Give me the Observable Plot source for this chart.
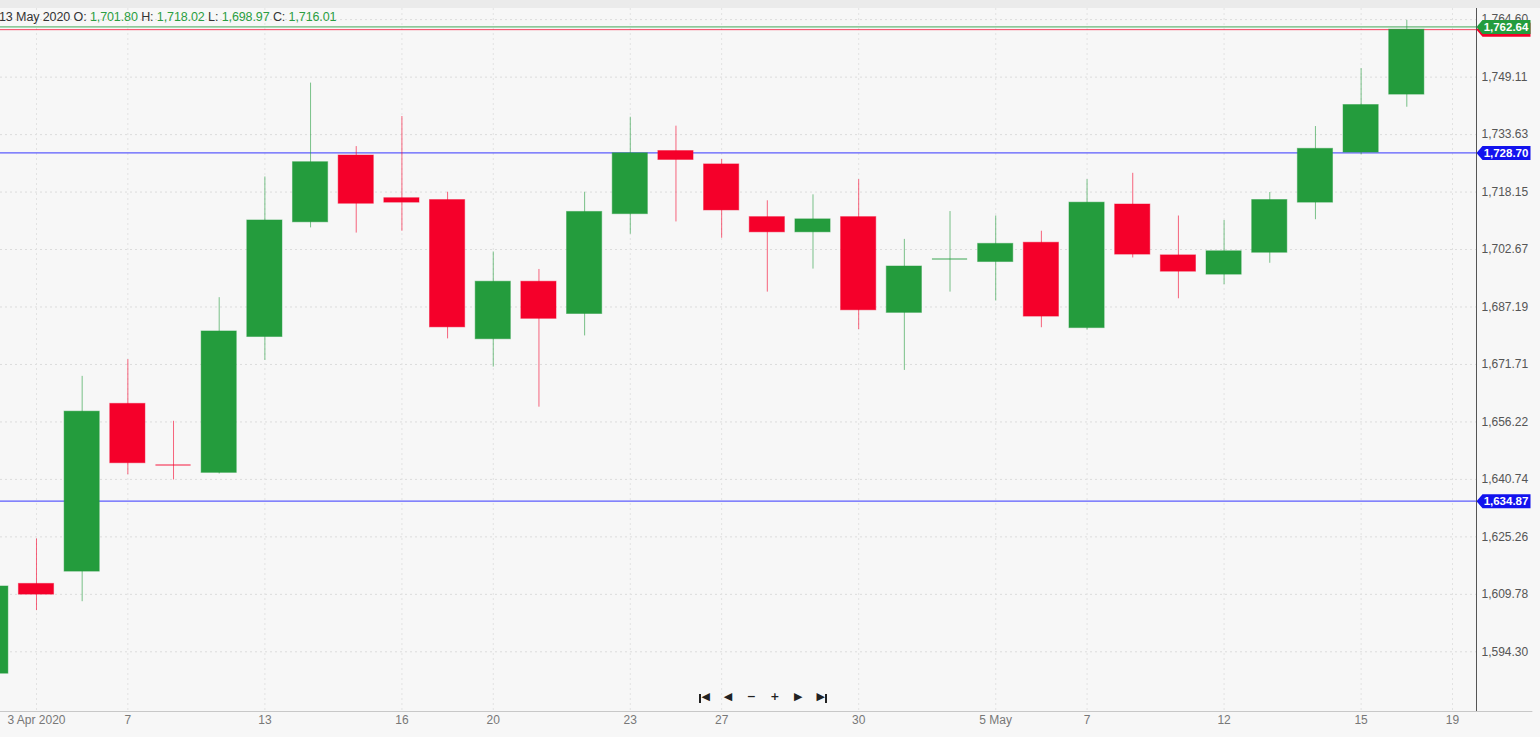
<!DOCTYPE html>
<html>
<head>
<meta charset="utf-8">
<script src="https://cdn.jsdelivr.net/npm/d3@7"></script>
<script src="https://cdn.jsdelivr.net/npm/@observablehq/plot@0.6"></script>
<style>
  html, body { margin: 0; padding: 0; background: #f7f7f7; }
  #wrap { position: relative; width: 1540px; height: 737px; overflow: hidden; background: #f7f7f7;
          font-family: "Liberation Sans", Arial, sans-serif; }
  #band { position: absolute; left: 0; top: 0; width: 1540px; height: 8px; background: #ebebeb; }
  #chart { position: absolute; left: 0; top: 0; }
  #hdr { position: absolute; left: -1px; top: 10px; font-size: 12.5px; color: #333; white-space: nowrap; letter-spacing: -0.1px; }
  #hdr .v { color: #2b9e42; }
  #nav { position: absolute; top: 690px; left: 693px; font-size: 11px; color: #222; white-space: nowrap; }
  #nav span { position: relative; display: inline-block; width: 23.4px; text-align: center; font-family: "DejaVu Sans", sans-serif; font-weight: bold; }
  #nav span.first::before { content: ""; position: absolute; left: 6px; top: 4px; width: 2px; height: 9px; background: #222; }
  #nav span.last::after { content: ""; position: absolute; right: 6px; top: 4px; width: 2px; height: 9px; background: #222; }
  #nav span.first { padding-left: 2px; box-sizing: border-box; }
  #nav span.last { padding-right: 2px; box-sizing: border-box; }
</style>
</head>
<body>
<div id="wrap">
  <div id="band"></div>
  <div id="chart"></div>
  <div id="hdr"></div>
  <div id="nav"></div>
</div>
<script>
// ---- data ----
const days = ["2020-04-02","2020-04-03","2020-04-06","2020-04-07","2020-04-08","2020-04-09",
  "2020-04-13","2020-04-14","2020-04-15","2020-04-16","2020-04-17","2020-04-20","2020-04-21",
  "2020-04-22","2020-04-23","2020-04-24","2020-04-27","2020-04-28","2020-04-29","2020-04-30",
  "2020-05-01","2020-05-04","2020-05-05","2020-05-06","2020-05-07","2020-05-08","2020-05-11",
  "2020-05-12","2020-05-13","2020-05-14","2020-05-15","2020-05-18","2020-05-19"];
const opens  = [1588.4,1612.6,1615.9,1661.1,1644.6,1642.5,1679.1,1710.0,1728.0,1716.5,1716.0,1678.5,1694.0,
  1685.3,1712.2,1729.2,1725.6,1711.4,1707.3,1711.4,1685.6,1700.1,1699.3,1704.5,1681.5,1714.8,1701.1,
  1695.9,1701.80,1715.3,1728.8,1744.4];
const highs  = [1614.0,1624.7,1668.5,1673.0,1656.4,1689.7,1722.2,1747.5,1730.4,1738.5,1718.1,1702.0,1697.3,
  1718.1,1738.3,1735.9,1726.9,1715.8,1717.4,1721.5,1705.4,1712.9,1711.7,1707.6,1721.5,1723.2,1711.7,
  1710.5,1718.02,1735.8,1751.4,1764.4];
const lows   = [1585.0,1605.4,1607.8,1642.0,1640.6,1642.2,1672.8,1708.5,1707.1,1707.6,1678.6,1671.0,1660.2,
  1679.4,1706.8,1710.1,1705.7,1691.2,1697.4,1681.1,1670.1,1691.2,1688.8,1681.6,1681.0,1700.4,1689.4,
  1693.2,1698.97,1710.7,1728.2,1741.0];
const closes = [1611.9,1609.7,1659.0,1645.1,1644.4,1680.6,1710.5,1726.2,1715.0,1715.3,1681.7,1694.0,1684.0,
  1712.8,1728.6,1726.8,1713.2,1707.3,1710.8,1686.3,1698.1,1700.3,1704.2,1684.6,1715.3,1701.3,1696.7,
  1702.2,1716.01,1729.8,1741.6,1761.9];

const yTicks = [1594.30,1609.78,1625.26,1640.74,1656.22,1671.71,1687.19,1702.67,1718.15,1733.63,1749.11,1764.60];
const tickDays   = ["2020-04-03","2020-04-07","2020-04-13","2020-04-16","2020-04-20","2020-04-23",
  "2020-04-27","2020-04-30","2020-05-05","2020-05-07","2020-05-12","2020-05-15","2020-05-19"];
const tickLabels = ["3 Apr 2020","7","13","16","20","23","27","30","5 May","7","12","15","19"];

const askPrice  = 1762.64;      // green price line / tag
const bidPrice  = 1761.90;      // red price line behind it
const levels    = [1728.70, 1634.87]; // blue horizontal lines

const hoverDay = "2020-05-13";

// ---- styles ----
const green = "#249c3d", red = "#f5002a", blue = "#1212ee";
const fmt = d3.format(",.2f");

const candles = opens.map((o, i) => ({i, date: days[i], open: o, high: highs[i], low: lows[i], close: closes[i]}));
const col = d => d.close >= d.open ? green : red;
const isDoji = d => Math.abs(d.close - d.open) < 0.5;
const tickIdx = tickDays.map(d => days.indexOf(d));

const tags = [
  {value: bidPrice, color: red, label: ""},
  {value: askPrice, color: green, label: fmt(askPrice)},
  ...levels.map(v => ({value: v, color: blue, label: fmt(v)}))
];

const tagSymbol = {
  draw(ctx) {
    ctx.moveTo(0, 0); ctx.lineTo(6, -7); ctx.lineTo(54, -7);
    ctx.lineTo(54, 7); ctx.lineTo(6, 7); ctx.closePath();
  }
};

const xDom = [0.212, 32.526];
const yDom = [1578.22, 1767.60];
const hw = 0.385;

const chart = Plot.plot({
  width: 1540, height: 737,
  marginLeft: 0, marginRight: 64, marginTop: 8, marginBottom: 26,
  style: {background: "transparent", fontFamily: "'Liberation Sans', Arial, sans-serif", fontSize: "12px"},
  x: {type: "linear", domain: xDom},
  y: {domain: yDom},
  marks: [
    Plot.gridY(yTicks, {stroke: "#dcdcdc", strokeOpacity: 1, strokeDasharray: "2,3"}),
    Plot.gridX(tickIdx, {stroke: "#e2e2e2", strokeOpacity: 1, strokeDasharray: "2,3"}),
    Plot.axisY(yTicks, {anchor: "right", tickSize: 0, tickPadding: 5, tickFormat: fmt, fill: "#555", label: null}),
    Plot.axisX(tickIdx, {anchor: "bottom", tickSize: 0, tickPadding: 4, fill: "#777", label: null,
      tickFormat: d => tickLabels[tickIdx.indexOf(d)]}),
    Plot.ruleY([yDom[0]], {x1: xDom[0] - 1, x2: 33.76, stroke: "#c8c8c8"}),
    Plot.ruleX([xDom[1]], {stroke: "#555"}),
    Plot.ruleY(levels, {stroke: "#3636ff", strokeOpacity: 0.8, strokeWidth: 1.2}),
    Plot.ruleY([bidPrice], {stroke: red, strokeOpacity: 0.75}),
    Plot.ruleY([askPrice], {stroke: green, strokeOpacity: 0.85}),
    Plot.ruleX(candles, {x: "i", y1: "low", y2: "high", stroke: col, strokeOpacity: 0.6}),
    Plot.rect(candles.filter(d => !isDoji(d)), {
      x1: d => d.i - hw, x2: d => d.i + hw, y1: "open", y2: "close",
      fill: col, stroke: col, strokeOpacity: 0.45, strokeWidth: 1}),
    Plot.ruleY(candles.filter(isDoji), {
      y: "open", x1: d => d.i - hw, x2: d => d.i + hw, stroke: col, strokeOpacity: 0.45, strokeWidth: 2}),
    Plot.dot(tags, {y: "value", frameAnchor: "right", symbol: tagSymbol, r: 5, fill: d => d.color, stroke: "none"}),
    Plot.text(tags, {y: "value", frameAnchor: "right", dx: 29.5, text: "label", textAnchor: "middle",
      fill: "white", fontWeight: "bold", fontSize: 11.5})
  ]
});
document.getElementById("chart").appendChild(chart);

// header (OHLC of hovered candle)
const h = candles[days.indexOf(hoverDay)];
const hd = new Date(hoverDay + "T00:00:00");
const hdr = document.getElementById("hdr");
hdr.innerHTML = `${d3.timeFormat("%-d %b %Y")(hd)} O: <span class="v">${fmt(h.open)}</span> H: <span class="v">${fmt(h.high)}</span> L: <span class="v">${fmt(h.low)}</span> C: <span class="v">${fmt(h.close)}</span>`;

// navigation buttons
const navGlyphs = [["first", "◀"], ["", "◀"], ["", "−"], ["", "+"], ["", "▶"], ["last", "▶"]];
document.getElementById("nav").innerHTML = navGlyphs.map(([c, g]) => `<span class="${c}">${g}</span>`).join("");
</script>
</body>
</html>
